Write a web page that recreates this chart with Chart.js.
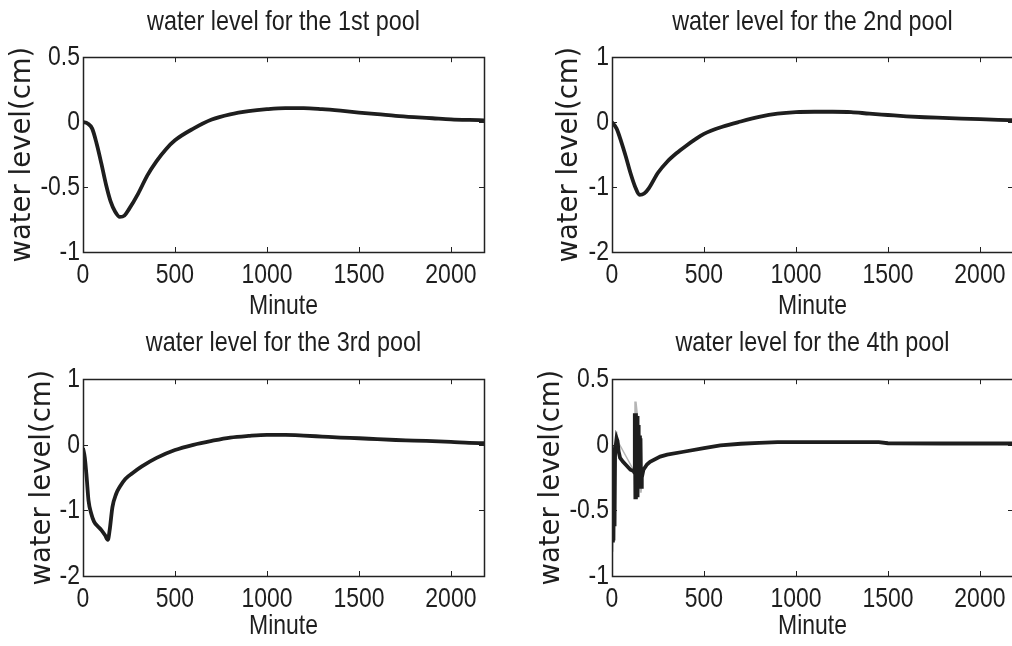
<!DOCTYPE html>
<html>
<head>
<meta charset="utf-8">
<script src="https://cdn.jsdelivr.net/npm/chart.js@4"></script>
<style>
  html, body { margin: 0; padding: 0; background: #fff; overflow: hidden; width: 1012px; height: 646px; }
  .cell { position: absolute; width: 506px; height: 323px; }
</style>
</head>
<body>
<div class="cell" style="left:0;top:0"><canvas id="c1" width="506" height="323"></canvas></div>
<div class="cell" style="left:529px;top:0"><canvas id="c2" width="506" height="323"></canvas></div>
<div class="cell" style="left:0;top:323px"><canvas id="c3" width="506" height="323"></canvas></div>
<div class="cell" style="left:529px;top:323px"><canvas id="c4" width="506" height="323"></canvas></div>
<script>
// x axis (minutes)
const xTicks = [0, 500, 1000, 1500, 2000];
const xMax = 2180;

// pool 1
const pool1Minutes = [0, 25, 50, 75, 100, 125, 150, 175, 200, 225, 250, 300, 350, 400, 450, 500, 600, 700, 800, 900, 1000, 1100, 1200, 1300, 1400, 1500, 1600, 1700, 1800, 1900, 2000, 2100, 2180];
const pool1Level = [0, -0.01, -0.05, -0.17, -0.32, -0.48, -0.61, -0.69, -0.73, -0.72, -0.67, -0.55, -0.41, -0.3, -0.21, -0.14, -0.05, 0.02, 0.06, 0.085, 0.1, 0.108, 0.108, 0.1, 0.088, 0.074, 0.062, 0.048, 0.038, 0.03, 0.022, 0.017, 0.014];
const pool1Ticks = [-1, -0.5, 0, 0.5];

// pool 2
const pool2Minutes = [0, 25, 50, 75, 100, 125, 150, 175, 200, 250, 300, 350, 400, 450, 500, 600, 700, 800, 900, 1000, 1100, 1200, 1300, 1400, 1500, 1600, 1700, 1800, 1900, 2000, 2100, 2180];
const pool2Level = [0, -0.1, -0.3, -0.53, -0.78, -0.99, -1.12, -1.1, -1.02, -0.78, -0.61, -0.48, -0.37, -0.27, -0.18, -0.07, 0.01, 0.08, 0.13, 0.155, 0.16, 0.16, 0.155, 0.13, 0.11, 0.09, 0.075, 0.065, 0.055, 0.045, 0.035, 0.03];
const pool2Ticks = [-2, -1, 0, 1];

// pool 3
const pool3Minutes = [0, 10, 20, 30, 45, 60, 80, 100, 120, 135, 145, 160, 180, 200, 230, 270, 320, 400, 500, 600, 700, 800, 900, 1000, 1100, 1200, 1300, 1400, 1500, 1600, 1700, 1800, 1900, 2000, 2100, 2180];
const pool3Level = [-0.05, -0.2, -0.5, -0.85, -1.05, -1.17, -1.24, -1.3, -1.38, -1.45, -1.3, -0.95, -0.75, -0.64, -0.52, -0.43, -0.33, -0.2, -0.08, 0, 0.06, 0.11, 0.135, 0.15, 0.15, 0.14, 0.125, 0.11, 0.1, 0.085, 0.073, 0.065, 0.055, 0.045, 0.03, 0.025];
const pool3Ticks = [-2, -1, 0, 1];

// pool 4 (black line + thin grey spikes underneath)
const pool4Minutes = [2, 5, 8, 11, 14, 17, 20, 25, 30, 36, 44, 60, 80, 100, 117, 121, 124, 127, 130, 133, 136, 139, 142, 145, 149, 152, 155, 158, 162, 171, 190, 207, 262, 300, 389, 500, 589, 700, 800, 900, 1000, 1200, 1450, 1500, 1800, 2180];
const pool4Level = [-0.73, -0.02, -0.73, -0.05, -0.62, -0.02, -0.01, 0.05, 0.03, -0.05, -0.1, -0.13, -0.16, -0.19, -0.2, -0.21, 0.24, -0.4, 0.24, -0.4, 0.22, -0.4, 0.15, -0.1, 0.07, -0.32, 0.05, -0.32, -0.25, -0.19, -0.15, -0.13, -0.09, -0.075, -0.053, -0.025, -0.005, 0.008, 0.015, 0.02, 0.02, 0.02, 0.02, 0.012, 0.01, 0.01];
const pool4GreyMinutes = [1, 3, 5, 20, 25, 30, 120, 125, 127, 130, 150, 155, 158, 165];
const pool4GreyLevel = [-0.81, -0.02, -0.81, -0.01, 0.1, 0.03, -0.2, 0.33, -0.4, 0.33, 0.07, -0.36, -0.36, -0.25];
const pool4Ticks = [-1, -0.5, 0, 0.5];

const sans = "'Liberation Sans', Arial, sans-serif";
const ink = "#1e1e1e";

function toPoints(xs, ys) {
  return xs.map((x, i) => ({ x: x, y: ys[i] }));
}

// no narrow font installed: squeeze Liberation Sans text horizontally
function narrowText(ctx) {
  const orig = ctx.fillText.bind(ctx);
  ctx.fillText = function (text, x, y) {
    if (ctx.font.indexOf("Liberation") < 0) return orig(text, x, y);
    ctx.save();
    ctx.translate(x, y);
    ctx.scale(0.82, 1);
    orig(text, 0, 0);
    ctx.restore();
  };
}

// MATLAB style box with inward ticks
const boxPlugin = {
  id: "box",
  afterDatasetsDraw(chart) {
    const { ctx, chartArea: a, scales } = chart;
    ctx.save();
    ctx.strokeStyle = "#222";
    ctx.lineWidth = 1;
    ctx.beginPath();
    scales.x.ticks.forEach((t) => {
      const px = Math.round(scales.x.getPixelForValue(t.value)) + 0.5;
      ctx.moveTo(px, a.bottom); ctx.lineTo(px, a.bottom - 5);
      ctx.moveTo(px, a.top); ctx.lineTo(px, a.top + 5);
    });
    scales.y.ticks.forEach((t) => {
      const py = Math.round(scales.y.getPixelForValue(t.value)) + 0.5;
      ctx.moveTo(a.left, py); ctx.lineTo(a.left + 5, py);
      ctx.moveTo(a.right, py); ctx.lineTo(a.right - 5, py);
    });
    ctx.stroke();
    ctx.lineWidth = 1.5;
    ctx.strokeRect(Math.round(a.left) + 0.5, Math.round(a.top) + 0.5, Math.round(a.right - a.left), Math.round(a.bottom - a.top));
    ctx.restore();
  },
};

function makeChart(id, title, datasets, yTicks, lay) {
  const ctx = document.getElementById(id).getContext("2d");
  narrowText(ctx);
  return new Chart(ctx, {
    type: "line",
    data: { datasets: datasets },
    options: {
      responsive: false,
      animation: false,
      devicePixelRatio: 1,
      layout: { padding: { left: 0, right: 22, top: 0, bottom: 0 } },
      plugins: {
        legend: { display: false },
        tooltip: { enabled: false },
        title: {
          display: true,
          fullSize: false,
          text: title,
          color: ink,
          font: { family: sans, size: 28.5, weight: "normal" },
          padding: { top: lay.titleTop, bottom: lay.titleBottom },
        },
      },
      scales: {
        x: {
          type: "linear",
          min: 0,
          max: xMax,
          grid: { display: false, drawTicks: false },
          border: { display: false },
          afterBuildTicks: (s) => { s.ticks = xTicks.map((v) => ({ value: v })); },
          afterFit: (s) => { s.height = lay.xHeight; },
          ticks: {
            color: ink,
            padding: 6,
            maxRotation: 0,
            autoSkip: false,
            font: { family: sans, size: 28 },
            callback: (v) => String(v),
          },
          title: {
            display: true,
            text: "Minute",
            color: ink,
            font: { family: sans, size: 28 },
            padding: { top: 0, bottom: lay.minuteBottom },
          },
        },
        y: {
          type: "linear",
          min: yTicks[0],
          max: yTicks[yTicks.length - 1],
          grid: { display: false, drawTicks: false },
          border: { display: false },
          afterBuildTicks: (s) => { s.ticks = yTicks.map((v) => ({ value: v })); },
          afterFit: (s) => { s.width = 83; },
          ticks: {
            color: ink,
            padding: 3,
            autoSkip: false,
            font: { family: sans, size: 28 },
            callback: (v) => String(v),
          },
          title: {
            display: true,
            text: "water level(cm)",
            color: ink,
            font: { family: "'DejaVu Sans', sans-serif", size: 27.5 },
            padding: { top: lay.yTitle, bottom: 0 },
          },
        },
      },
    },
    plugins: [boxPlugin],
  });
}

function lineSet(xs, ys, smooth) {
  return {
    data: toPoints(xs, ys),
    borderColor: ink,
    borderWidth: 3.8,
    pointRadius: 0,
    fill: false,
    tension: smooth ? 0.4 : 0,
    cubicInterpolationMode: smooth ? "monotone" : "default",
  };
}

const topLay = { titleTop: 5, titleBottom: 18, xHeight: 71, minuteBottom: 0 };
const botLay = { titleTop: 3, titleBottom: 19, xHeight: 70, minuteBottom: 3 };

makeChart("c1", "water level for the 1st pool", [lineSet(pool1Minutes, pool1Level, true)], pool1Ticks, Object.assign({ yTitle: 6 }, topLay));
makeChart("c2", "water level for the 2nd pool", [lineSet(pool2Minutes, pool2Level, true)], pool2Ticks, Object.assign({ yTitle: 24 }, topLay));
makeChart("c3", "water level for the 3rd pool", [lineSet(pool3Minutes, pool3Level, true)], pool3Ticks, Object.assign({ yTitle: 26 }, botLay));
// dataset 0 is painted last, so the black line goes first to sit above the grey one
makeChart("c4", "water level for the 4th pool", [
  lineSet(pool4Minutes, pool4Level, false),
  { data: toPoints(pool4GreyMinutes, pool4GreyLevel), borderColor: "#b5b5b5", borderWidth: 1.5, pointRadius: 0, fill: false, tension: 0 },
], pool4Ticks, Object.assign({ yTitle: 6 }, botLay));
</script>
</body>
</html>
